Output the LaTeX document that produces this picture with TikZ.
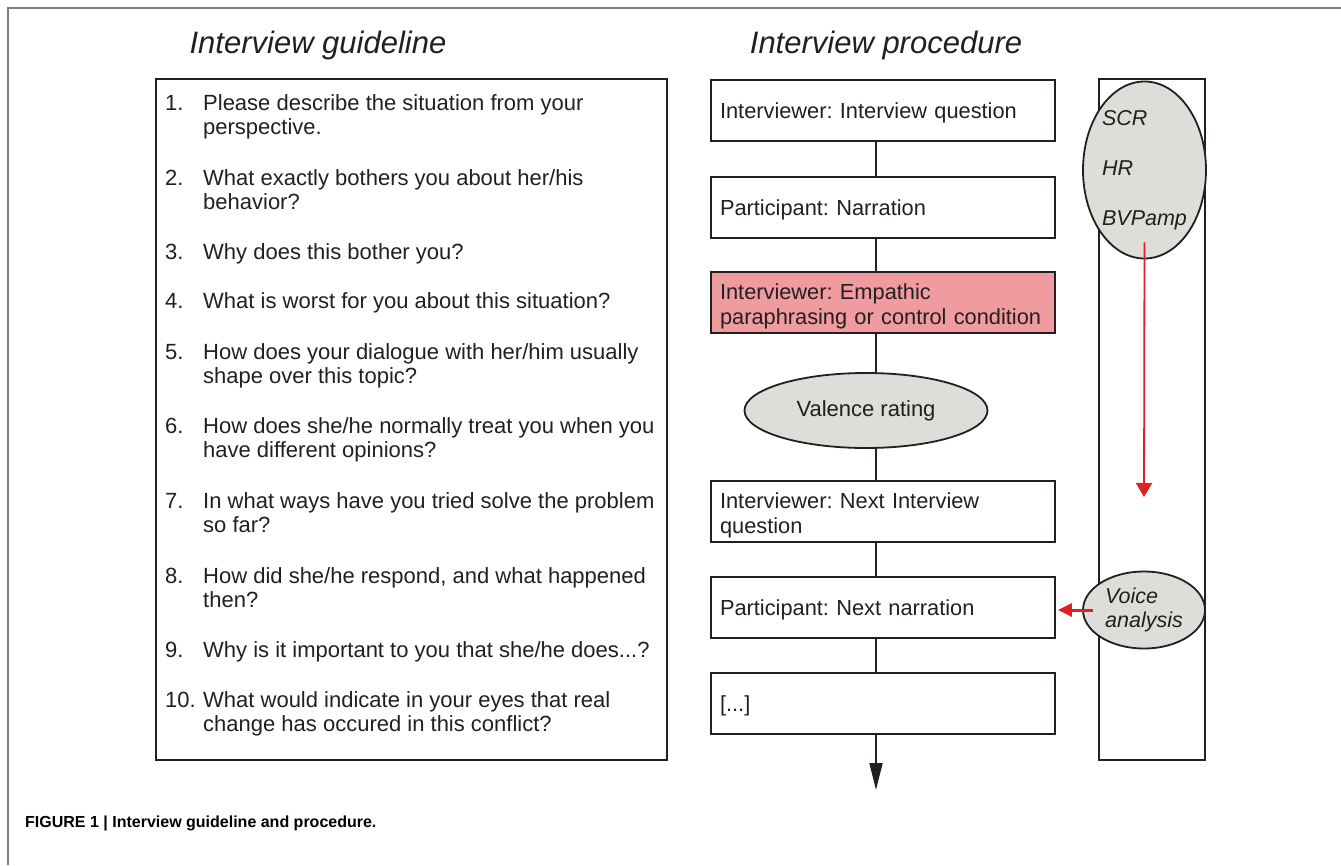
\documentclass[tikz,border=0pt]{standalone}
\usepackage{fontspec}
\setmainfont{Liberation Sans}
\usetikzlibrary{arrows.meta}
\usetikzlibrary{shapes.geometric}
\frenchspacing

\definecolor{boxline}{RGB}{35,31,32}
\definecolor{ovalgray}{RGB}{221,221,218}
\definecolor{parapink}{RGB}{240,155,160}
\definecolor{syncred}{RGB}{224,32,36}

\newcommand{\guideitem}[2]{\begin{tabular}[t]{@{}p{38pt}@{}l@{}}#1&#2\end{tabular}}

\begin{document}
\begin{tikzpicture}[x=1pt,y=-1pt,
  title/.style={font=\fontsize{31}{36}\selectfont\itshape, text=boxline},
  guidetext/.style={inner sep=0, font=\fontsize{22}{24.5}\selectfont, text=boxline},
  stepbox/.style={draw=boxline, line width=1.8, minimum width=344, minimum height=61,
    text width=326, inner xsep=9, inner ysep=0, align=left,
    execute at begin node={\rule[-7.5pt]{0pt}{31.5pt}},
    font=\fontsize{21.8}{24.5}\selectfont, text=boxline},
  rateoval/.style={ellipse, draw=boxline, line width=1.8, fill=ovalgray, inner sep=0,
    align=left, font=\fontsize{22}{24.5}\selectfont, text=boxline},
  link/.style={draw=boxline, line width=1.8}
]
\useasboundingbox (0,0) rectangle (1341,865);

% frame
\draw[gray, line width=1.5] (1341,8) -- (8,8) -- (8,865);

% titles
\node[title] (gtitle) at (318,45) {Interview guideline};
\node[title] (ptitle) at (886,45) {Interview procedure};

% guideline
\node[draw=boxline, line width=1.8, minimum width=511, minimum height=681] (guide) at (411.5,419.5) {};

\node[guidetext, anchor=base west] (q1) at (165,110) {\guideitem{1.}{Please describe the situation from your\\&perspective.}};
\node[guidetext, anchor=base west] (q2) at (165,185) {\guideitem{2.}{What exactly bothers you about her/his\\&behavior?}};
\node[guidetext, anchor=base west] (q3) at (165,259) {\guideitem{3.}{Why does this bother you?}};
\node[guidetext, anchor=base west] (q4) at (165,308) {\guideitem{4.}{What is worst for you about this situation?}};
\node[guidetext, anchor=base west] (q5) at (165,359) {\guideitem{5.}{How does your dialogue with her/him usually\\&shape over this topic?}};
\node[guidetext, anchor=base west] (q6) at (165,433) {\guideitem{6.}{How does she/he normally treat you when you\\&have different opinions?}};
\node[guidetext, anchor=base west] (q7) at (165,508) {\guideitem{7.}{In what ways have you tried solve the problem\\&so far?}};
\node[guidetext, anchor=base west] (q8) at (165,583) {\guideitem{8.}{How did she/he respond, and what happened\\&then?}};
\node[guidetext, anchor=base west] (q9) at (165,657) {\guideitem{9.}{Why is it important to you that she/he does...?}};
\node[guidetext, anchor=base west] (q10) at (165,707) {\guideitem{10.}{What would indicate in your eyes that real\\&change has occured in this conflict?}};

% procedure
\coordinate (spine) at (876,0);
\coordinate (flowend) at (876,790);

\node[stepbox] (b1) at (883,110.5) {Interviewer: Interview question};
\node[stepbox] (b2) at (883,207.5) {Participant: Narration};
\node[stepbox, fill=parapink] (b3) at (883,302.5) {Interviewer: Empathic\\paraphrasing or control condition};
\node[rateoval, minimum width=243, minimum height=75, align=center] (val) at (866,410.5) {Valence rating};
\node[stepbox] (b4) at (883,511.5) {Interviewer: Next Interview\\question};
\node[stepbox] (b5) at (883,607.5) {Participant: Next narration};
\node[stepbox] (b6) at (883,703.5) {[...]};

\draw[link] (b1.south -| spine) -- (b2.north -| spine);
\draw[link] (b2.south -| spine) -- (b3.north -| spine);
\draw[link] (b3.south -| spine) -- (val.north -| spine);
\draw[link] (val.south -| spine) -- (b4.north -| spine);
\draw[link] (b4.south -| spine) -- (b5.north -| spine);
\draw[link] (b5.south -| spine) -- (b6.north -| spine);
\draw[link, -{Triangle[length=27pt, width=13pt]}] (b6.south -| spine) -- (flowend);

% measures
\node[draw=boxline, line width=1.8, minimum width=106, minimum height=681] (track) at (1152,419.5) {};

\node[rateoval, minimum width=123, minimum height=177, font=\fontsize{21.5}{50}\selectfont\itshape] (phys) at (1144.5,170) {SCR\\HR\\BVPamp};
\node[rateoval, minimum width=122, minimum height=77, font=\fontsize{21.5}{24.5}\selectfont\itshape] (voice) at (1144,610) {Voice\\analysis};

\coordinate (sync) at (1144,497);

\begin{scope}[syncred]
\draw[line width=1.8, -{Triangle[length=14pt, width=16pt]}] ([yshift=17]phys.south) -- (sync);
\draw[line width=3, -{Triangle[length=14pt, width=13pt]}] ([xshift=11]voice.west) -- ([xshift=2]b5.east |- voice.west);
\end{scope}

% caption
\node[anchor=west, inner sep=0, font=\fontsize{16}{19}\selectfont\bfseries, text=black] (caption) at (25,823) {FIGURE 1 | Interview guideline and procedure.};

\end{tikzpicture}
\end{document}
